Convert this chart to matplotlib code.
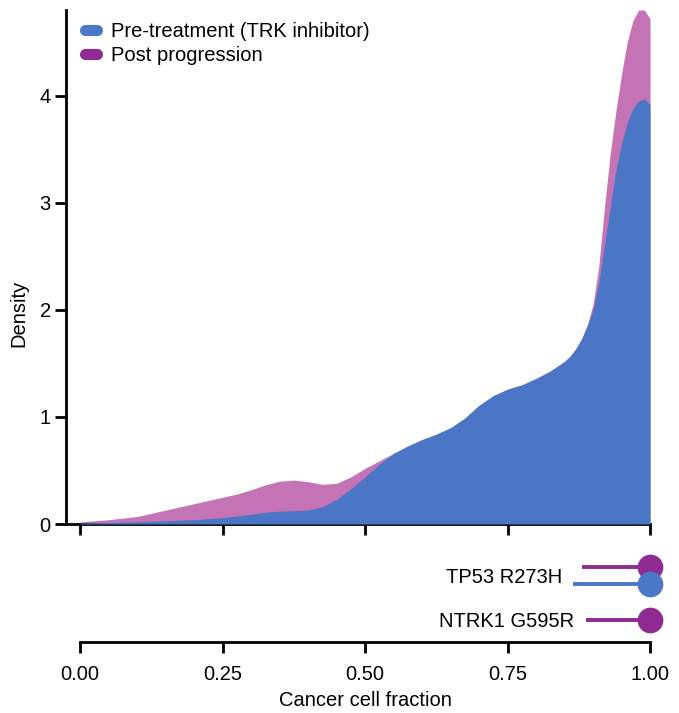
import matplotlib
matplotlib.use("Agg")
import matplotlib.pyplot as plt
from matplotlib.lines import Line2D

plt.rcParams['font.family'] = ['Liberation Sans', 'DejaVu Sans']

# ---- data ----
ccf = [0.00, 0.025, 0.05, 0.075, 0.10, 0.125, 0.15, 0.175, 0.20, 0.225, 0.25, 0.275,
       0.30, 0.325, 0.35, 0.375, 0.40, 0.425, 0.45, 0.475, 0.50, 0.525, 0.55, 0.575,
       0.60, 0.625, 0.65, 0.675, 0.70, 0.725, 0.75, 0.775, 0.80, 0.825, 0.85, 0.86,
       0.87, 0.88, 0.89, 0.90, 0.91, 0.92, 0.93, 0.94, 0.95, 0.96, 0.97, 0.98, 0.99, 1.00]

dens_pre = [0.01, 0.012, 0.015, 0.018, 0.02, 0.025, 0.03, 0.035, 0.04, 0.05, 0.06, 0.075,
            0.09, 0.11, 0.12, 0.125, 0.13, 0.16, 0.23, 0.33, 0.44, 0.56, 0.66, 0.73,
            0.79, 0.84, 0.90, 0.99, 1.11, 1.20, 1.26, 1.30, 1.36, 1.43, 1.52, 1.57,
            1.64, 1.73, 1.85, 2.00, 2.25, 2.60, 2.95, 3.30, 3.55, 3.75, 3.88, 3.95, 3.97, 3.92]

dens_post = [0.02, 0.03, 0.04, 0.055, 0.07, 0.10, 0.13, 0.16, 0.19, 0.22, 0.25, 0.28,
             0.32, 0.365, 0.40, 0.41, 0.395, 0.37, 0.38, 0.44, 0.52, 0.59, 0.66, 0.72,
             0.78, 0.83, 0.89, 0.98, 1.10, 1.19, 1.25, 1.29, 1.35, 1.42, 1.51, 1.56,
             1.63, 1.73, 1.86, 2.05, 2.40, 2.95, 3.45, 3.85, 4.20, 4.50, 4.70, 4.80, 4.80, 4.72]

series_labels = ["Pre-treatment (TRK inhibitor)", "Post progression"]

mutations = ["TP53 R273H", "NTRK1 G595R"]
# per mutation: (post lower, post ccf), (pre lower, pre ccf)
post_lo = [0.880, 0.887]
post_ccf = [1.0, 1.0]
pre_lo = [0.865, None]
pre_ccf = [1.0, None]

xticks = [0.00, 0.25, 0.50, 0.75, 1.00]
xticklabels = ["0.00", "0.25", "0.50", "0.75", "1.00"]
yticks = [0, 1, 2, 3, 4]

# ---- style ----
c_pre_fill = "#4A76C5"
c_post_fill = "#C473B4"
c_pre = "#4A77C8"
c_post = "#8E2A92"
fs = 14.5
lw_axis = 2.0

W, H = 679, 713
fig = plt.figure(figsize=(W / 100, H / 100), dpi=100)

def px(l, t, r, b):
    return [l / W, 1 - b / H, (r - l) / W, (b - t) / H]

ax = fig.add_axes(px(66, 10, 650, 524))
ax2 = fig.add_axes(px(66, 550, 650, 642))

xlim = (-0.025, 1.0)

# top: densities
ax.fill_between(ccf, 0, dens_post, color=c_post_fill, lw=0, zorder=2, clip_on=False)
ax.fill_between(ccf, 0, dens_pre, color=c_pre_fill, lw=0, zorder=3, clip_on=False)
ax.set_xlim(*xlim)
ax.set_ylim(0, 4.8)
ax.set_xticks(xticks)
ax.set_xticklabels([])
ax.set_yticks(yticks)
ax.set_yticklabels([str(v) for v in yticks])
for s in ["top", "right"]:
    ax.spines[s].set_visible(False)
for s in ["left", "bottom"]:
    ax.spines[s].set_linewidth(lw_axis)
ax.tick_params(axis='both', width=lw_axis, length=8, labelsize=fs, pad=3, color='black')
ax.set_ylabel("Density", fontsize=fs, labelpad=8)
ax.yaxis.label.set_y(0.41)

handles = [Line2D([0], [0], color=c_pre, lw=8, solid_capstyle='round'),
           Line2D([0], [0], color=c_post, lw=8, solid_capstyle='round')]
ax.legend(handles, series_labels, loc='upper left', bbox_to_anchor=(0.032, 0.976),
          frameon=False, handlelength=0.6, handletextpad=0.72, borderpad=0,
          borderaxespad=0, labelspacing=0.24, fontsize=fs)

# bottom: lollipops
rows = [1, 0]
off = 0.19
for i, m in enumerate(mutations):
    r = rows[i]
    has_pre = pre_lo[i] is not None
    yp = r + off if has_pre else r
    ax2.plot([post_lo[i], post_ccf[i]], [yp, yp], color=c_post, lw=2.8,
             solid_capstyle='butt', clip_on=False, zorder=2)
    ax2.plot([post_ccf[i]], [yp], 'o', color=c_post, ms=18.5, mew=0, clip_on=False, zorder=3)
    lo_min = post_lo[i]
    if has_pre:
        yb = r - off
        ax2.plot([pre_lo[i], pre_ccf[i]], [yb, yb], color=c_pre, lw=2.8,
                 solid_capstyle='butt', clip_on=False, zorder=4)
        ax2.plot([pre_ccf[i]], [yb], 'o', color=c_pre, ms=18.5, mew=0, clip_on=False, zorder=5)
        lo_min = min(lo_min, pre_lo[i])
    ax2.annotate(m, xy=(lo_min, r), xytext=(-8, -1.5), textcoords='offset points',
                 ha='right', va='center', fontsize=fs)

ax2.set_xlim(*xlim)
ax2.set_ylim(-0.5, 1.57)
ax2.set_xticks(xticks)
ax2.set_xticklabels(xticklabels)
ax2.set_yticks([])
for s in ["top", "right", "left"]:
    ax2.spines[s].set_visible(False)
ax2.spines["bottom"].set_linewidth(lw_axis)
ax2.spines["bottom"].set_bounds(0, 1)
ax2.tick_params(axis='x', width=lw_axis, length=8, labelsize=fs, pad=8.5)
ax2.set_xlabel("Cancer cell fraction", fontsize=fs, labelpad=5)
ax2.xaxis.label.set_x((0.5 - xlim[0]) / (xlim[1] - xlim[0]))
ax2.patch.set_alpha(0)

fig.savefig("out.png", dpi=100)
